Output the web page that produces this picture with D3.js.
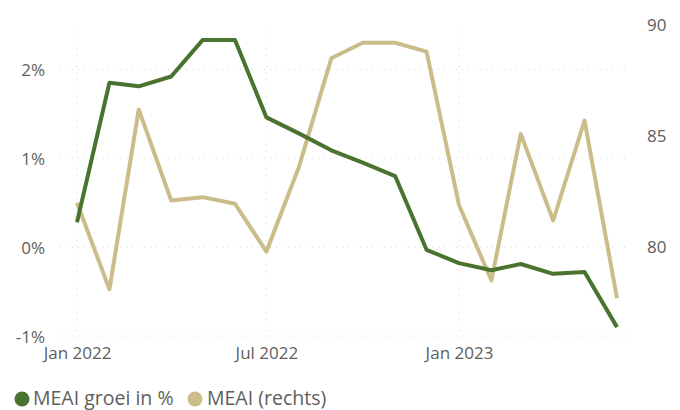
<!DOCTYPE html>
<html>
<head>
<meta charset="utf-8">
<script src="https://cdn.jsdelivr.net/npm/d3@7"></script>
<style>
  html, body { margin: 0; padding: 0; background: #fff; }
  svg { display: block; }
  text { font-family: "Open Sans", "Noto Sans", sans-serif; }
</style>
</head>
<body>
<svg id="chart" width="680" height="410"></svg>
<script>
const months = ["2022-01","2022-02","2022-03","2022-04","2022-05","2022-06","2022-07","2022-08","2022-09","2022-10","2022-11","2022-12","2023-01","2023-02","2023-03","2023-04","2023-05","2023-06"];
const groei = [0.28, 1.85, 1.81, 1.92, 2.33, 2.33, 1.46, 1.28, 1.09, 0.95, 0.80, -0.03, -0.18, -0.26, -0.19, -0.30, -0.28, -0.90];
const meai = [82.0, 78.1, 86.2, 82.1, 82.25, 81.95, 79.8, 83.6, 88.5, 89.2, 89.2, 88.8, 81.9, 78.5, 85.1, 81.2, 85.7, 77.7];
const leftTicks = [-1, 0, 1, 2];
const rightTicks = [80, 85, 90];
const xTicks = ["2022-01", "2022-07", "2023-01"];
const seriesNames = ["MEAI groei in %", "MEAI (rechts)"];
const colors = ["#4a7330", "#cbbd8a"];

const parse = d3.timeParse("%Y-%m");
const dates = months.map(parse);
const svg = d3.select("#chart");

const x = d3.scaleTime().domain([parse("2022-01"), parse("2023-06")]).range([77, 617]);
const yL = d3.scaleLinear().domain([-1, 2.5]).range([336, 25]);
const yR = d3.scaleLinear().domain([76, 90]).range([336, 25]);

const gridColor = "#d6d6d6";
// horizontal gridlines
svg.append("g").selectAll("line").data(leftTicks).join("line")
  .attr("x1", 60).attr("x2", 627)
  .attr("y1", d => yL(d)).attr("y2", d => yL(d))
  .attr("stroke", gridColor).attr("stroke-width", 1)
  .attr("stroke-dasharray", "1,5");
// vertical gridlines
svg.append("g").selectAll("line").data(xTicks).join("line")
  .attr("x1", d => x(parse(d))).attr("x2", d => x(parse(d)))
  .attr("y1", 30).attr("y2", 336)
  .attr("stroke", gridColor).attr("stroke-width", 1)
  .attr("stroke-dasharray", "1,5");

const labelColor = "#605e5c";
const axFont = "17px";
// left axis
const axL = d3.axisLeft(yL).tickValues(leftTicks).tickFormat(d => d + "%").tickSize(0).tickPadding(0);
const gL = svg.append("g").attr("transform", "translate(45,1)").call(axL);
gL.select(".domain").remove();
gL.selectAll("text").attr("fill", labelColor).style("font-size", axFont).style("font-family", "'Open Sans', sans-serif");

// right axis
const axR = d3.axisRight(yR).tickValues(rightTicks).tickSize(0).tickPadding(0);
const gR = svg.append("g").attr("transform", "translate(647,0)").call(axR);
gR.select(".domain").remove();
gR.selectAll("text").attr("fill", labelColor).style("font-size", axFont).style("font-family", "'Open Sans', sans-serif");

// x axis
const fmt = d3.timeFormat("%b %Y");
const axX = d3.axisBottom(x).tickValues(xTicks.map(parse)).tickFormat(fmt).tickSize(0).tickPadding(0);
const gX = svg.append("g").attr("transform", "translate(0,347)").call(axX);
gX.select(".domain").remove();
gX.selectAll("text").attr("fill", labelColor).style("font-size", axFont).style("font-family", "'Open Sans', sans-serif");

// lines
const lineL = d3.line().x((d, i) => x(dates[i])).y(d => yL(d));
const lineR = d3.line().x((d, i) => x(dates[i])).y(d => yR(d));
svg.append("path").datum(meai).attr("d", lineR).attr("fill", "none")
  .attr("stroke", colors[1]).attr("stroke-width", 4).attr("stroke-linejoin", "round");
svg.append("path").datum(groei).attr("d", lineL).attr("fill", "none")
  .attr("stroke", colors[0]).attr("stroke-width", 4).attr("stroke-linejoin", "round");

// legend
const legend = svg.append("g");
const items = [{name: seriesNames[0], c: colors[0], cx: 22, tx: 33}, {name: seriesNames[1], c: colors[1], cx: 195, tx: 207}];
items.forEach(it => {
  legend.append("circle").attr("cx", it.cx).attr("cy", 399).attr("r", 7.5).attr("fill", it.c);
  legend.append("text").attr("x", it.tx).attr("y", 405).attr("fill", labelColor)
    .style("font-size", "19.5px").text(it.name);
});
</script>
</body>
</html>
